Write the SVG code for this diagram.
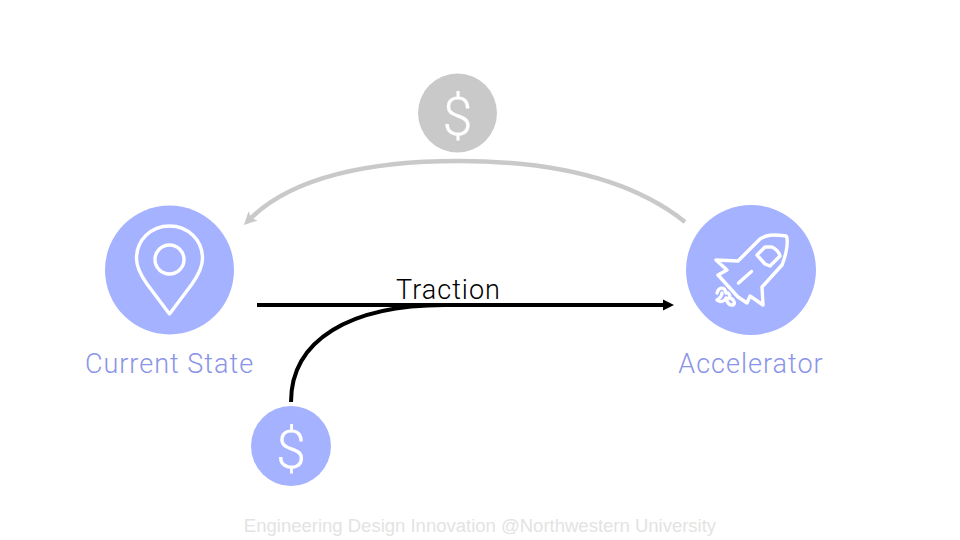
<svg xmlns="http://www.w3.org/2000/svg" width="960" height="540" viewBox="0 0 960 540">
<defs>
<style>
.lbl{font-family:"Roboto","Liberation Sans",sans-serif;font-weight:300;font-size:27px;letter-spacing:1px;fill:#8a94e8;text-anchor:middle}
.dol{font-family:"Roboto","Liberation Sans",sans-serif;font-weight:300;font-size:54px;fill:#fff;stroke:#fff;stroke-width:.2;text-anchor:middle}
.ico{fill:none;stroke:#fff;stroke-width:3.4;stroke-linejoin:round;stroke-linecap:round}
.c{fill:#a5b2ff}
</style>
<marker id="ab" markerUnits="userSpaceOnUse" markerWidth="12" markerHeight="12" refX="0" refY="6" orient="auto"><path d="M0 .5L11 6L0 11.500Z" fill="#000"/></marker>
<marker id="ag" markerUnits="userSpaceOnUse" markerWidth="16" markerHeight="14" refX="3" refY="7" orient="auto"><path d="M0 .5L13 7L0 13.500L3 7Z" fill="#c9c9c9"/></marker>
</defs>
<rect width="960" height="540" fill="#fff"/>
<g id="connectors" fill="none">
<path d="M685 222C630 178 550 161 458 161C370 161 293 177 251 218" stroke="#c9c9c9" stroke-width="4.500" marker-end="url(#ag)"/>
<path d="M291 402C291 340 350 305 445 305" stroke="#000" stroke-width="4"/>
<path d="M257 305H663" stroke="#000" stroke-width="4" marker-end="url(#ab)"/>
</g>
<g id="current-state">
<circle class="c" cx="169.500" cy="270" r="64.500"/>
<path class="ico" d="M169.500 314L147 284C140 274 136.500 266 136.500 258.500C136.500 240 151 226 169.500 226C188 226 202.500 240 202.500 258.500C202.500 266 199 274 192 284Z"/>
<circle class="ico" cx="169.500" cy="259.500" r="14.500"/>
<text class="lbl" x="169.500" y="372.500">Current State</text>
</g>
<g id="accelerator">
<circle class="c" cx="751" cy="270" r="65"/>
<path class="ico" d="M716 260L738 261L760 239C766 235 772 234 786 236C788 238 788 250 782 265L762 287L763 305L750 296L747 303L738 297L718 275L727 270Z"/>
<path class="ico" d="M757 255L765 247L772 247C776 249 779 252 780 256L770 266L765 264Z"/>
<path class="ico" d="M738.500 283L751.500 271.500" stroke-width="5"/>
<path class="ico" d="M717 293C719 286 725 287 726 293C728 292 731 295 729 298C733 298 736 303 733 305C729 306 727 302 726 298C725 301 721 303 717 300C720 298 722 296 722 293"/>
<text class="lbl" x="751" y="372.500">Accelerator</text>
</g>
<g id="top-dollar">
<circle cx="457.500" cy="113" r="39.500" fill="#c9c9c9"/>
<text class="dol" x="457.500" y="135">$</text>
</g>
<g id="bottom-dollar">
<circle class="c" cx="291" cy="446" r="40"/>
<text class="dol" x="291" y="468">$</text>
</g>
<g id="traction">
<text x="448.500" y="299" font-family="Roboto,'Liberation Sans',sans-serif" font-weight="300" font-size="27" letter-spacing="1" text-anchor="middle" fill="#000">Traction</text>
</g>
<g id="footer">
<text x="480" y="532" font-family="'Liberation Sans',Arial,sans-serif" font-size="18.500" text-anchor="middle" fill="#e3e3e3">Engineering Design Innovation @Northwestern University</text>
</g>
</svg>
